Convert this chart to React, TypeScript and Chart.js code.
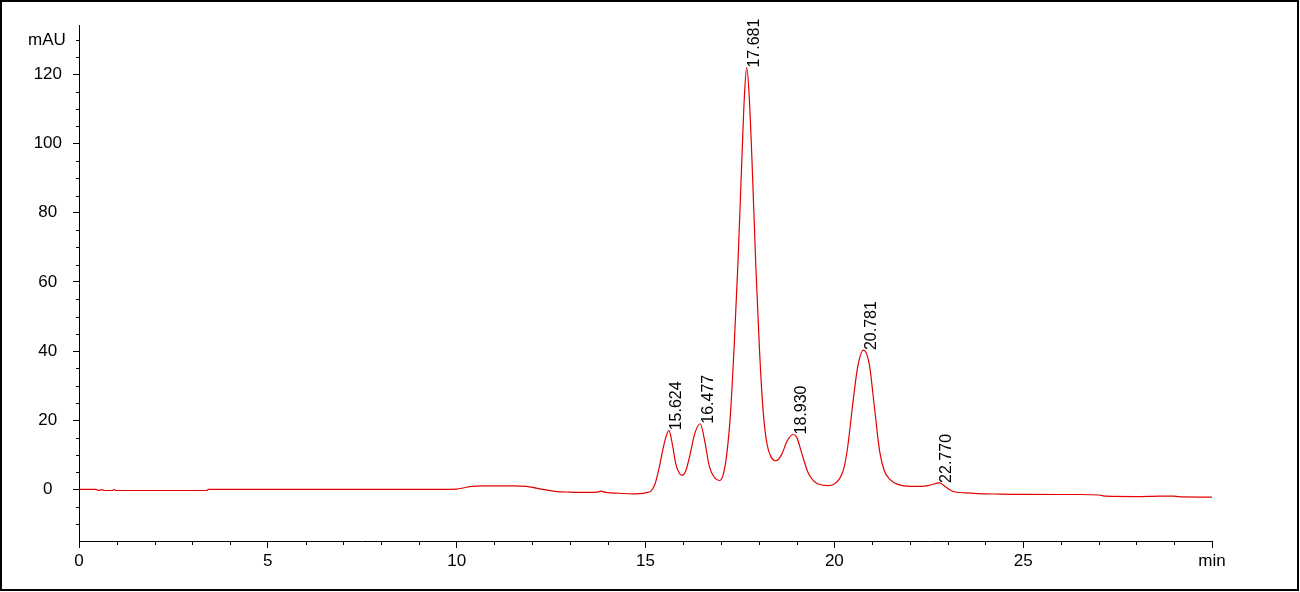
import React, { useEffect, useRef } from 'react';
import { Chart, registerables } from 'chart.js';

Chart.register(...registerables);

// Retention time (min)
const times = [
  0, 0.45, 0.52, 0.6, 0.68, 0.88, 0.93, 0.98, 3.38, 3.43, 6.0, 9.0, 10.0, 10.2, 10.4, 10.7, 11.5, 11.85,
  12.1, 12.4, 12.65, 13.0, 13.5, 13.72, 13.83, 13.95, 14.3, 14.66, 15.0, 15.15, 15.25, 15.37, 15.5, 15.62,
  15.72, 15.8, 15.9, 15.97, 16.07, 16.17, 16.3, 16.45, 16.56, 16.69, 16.83, 16.96, 17.05, 17.15, 17.25,
  17.35, 17.45, 17.55, 17.62, 17.68, 17.74, 17.82, 17.92, 18.02, 18.12, 18.22, 18.32, 18.45, 18.6, 18.75,
  18.9, 19.0, 19.15, 19.3, 19.45, 19.6, 19.82, 20.0, 20.13, 20.25, 20.35, 20.48, 20.62, 20.77, 20.92,
  21.06, 21.2, 21.32, 21.46, 21.7, 22.0, 22.3, 22.55, 22.78, 22.95, 23.13, 23.48, 24.4, 25.0, 26.0, 26.5,
  27.0, 27.2, 28.0, 28.6, 29.0, 29.2, 30.0,
];

// Absorbance (mAU)
const absorbance = [
  0, 0, -0.3, -0.05, -0.3, -0.3, -0.05, -0.3, -0.3, 0, 0, 0, 0.1, 0.5, 0.9, 1.05, 1.05, 0.9,
  0.4, -0.2, -0.6, -0.75, -0.85, -0.75, -0.5, -0.85, -1.1, -1.3, -1.0, -0.4, 1.5, 6.7, 13.5, 17.1,
  12.5, 7.5, 4.6, 4.1, 5.5, 9.6, 16.0, 19.0, 14.5, 6.7, 3.4, 2.6, 4, 10, 22,
  42, 66, 95, 114, 122, 115, 95, 65, 40, 22, 13, 9.5, 8.3, 10, 14,
  15.9, 15.2, 10, 5, 2.5, 1.5, 1.1, 1.6, 3, 6, 12, 24, 35.5, 40.3, 36.5,
  24, 11, 5.5, 3, 1.4, 0.9, 0.9, 1.3, 1.9, 0.7, -0.5, -1.0, -1.35, -1.4, -1.45, -1.45,
  -1.6, -1.95, -2.05, -1.9, -1.95, -2.15, -2.2,
];

const xTickValues = [0, 5, 10, 15, 20, 25, 30];
const xMinorTicks = [1, 2, 3, 4, 6, 7, 8, 9, 11, 12, 13, 14, 16, 17, 18, 19, 21, 22, 23, 24, 26, 27, 28, 29];
const yTickValues = [0, 20, 40, 60, 80, 100, 120];
const yMinorTicks = [-10, -5, 5, 10, 15, 25, 30, 35, 45, 50, 55, 65, 70, 75, 85, 90, 95, 105, 110, 115, 125, 130];

const xUnitLabel = 'min';
const yUnitLabel = 'mAU';
const yUnitAt = 130;

const peakTimes = [15.624, 16.477, 17.681, 18.93, 20.781, 22.77];
const peakHeights = [17.1, 19.0, 122, 15.9, 40.3, 1.9];
const peakLabels = ['15.624', '16.477', '17.681', '18.930', '20.781', '22.770'];

const FONT = '"Liberation Sans", Arial, sans-serif';

const decorPlugin = {
  id: 'decor',
  afterDraw(chart: any) {
    const ctx = chart.ctx;
    const xs = chart.scales.x;
    const ys = chart.scales.y;
    const area = chart.chartArea;
    ctx.save();
    // minor ticks
    ctx.strokeStyle = '#000';
    ctx.lineWidth = 1;
    ctx.beginPath();
    xMinorTicks.forEach((v) => {
      const px = Math.round(xs.getPixelForValue(v)) + 0.5;
      ctx.moveTo(px, area.bottom);
      ctx.lineTo(px, area.bottom + 4);
    });
    yMinorTicks.forEach((v) => {
      const py = Math.round(ys.getPixelForValue(v)) + 0.5;
      ctx.moveTo(area.left - 3, py);
      ctx.lineTo(area.left, py);
    });
    ctx.stroke();
    // unit label on y axis
    ctx.fillStyle = '#000';
    ctx.font = `17px ${FONT}`;
    ctx.textAlign = 'center';
    ctx.textBaseline = 'middle';
    ctx.fillText(yUnitLabel, 47, ys.getPixelForValue(yUnitAt));
    // peak labels
    ctx.font = `16px ${FONT}`;
    ctx.textAlign = 'left';
    ctx.textBaseline = 'alphabetic';
    peakTimes.forEach((t, i) => {
      const px = xs.getPixelForValue(t);
      const py = ys.getPixelForValue(peakHeights[i]);
      ctx.save();
      ctx.translate(px + 12, py);
      ctx.rotate(-Math.PI / 2);
      ctx.fillText(peakLabels[i], 0, 0);
      ctx.restore();
    });
    // outer frame
    ctx.lineWidth = 2;
    ctx.strokeStyle = '#000';
    ctx.strokeRect(1, 1, 1297, 589);
    ctx.restore();
  },
};

export default function App() {
  const canvasRef = useRef<HTMLCanvasElement | null>(null);

  useEffect(() => {
    if (!canvasRef.current) return;
    const data = times.map((t, i) => ({ x: t, y: absorbance[i] }));
    const chart = new Chart(canvasRef.current, {
      type: 'line',
      data: {
        datasets: [
          {
            data,
            borderColor: 'rgb(226, 0, 0)',
            borderWidth: 1.2,
            pointRadius: 0,
            fill: false,
            cubicInterpolationMode: 'monotone',
          },
        ],
      },
      options: {
        responsive: false,
        animation: false,
        events: [],
        layout: { padding: { left: 0, top: 25, right: 88, bottom: 0 } },
        plugins: { legend: { display: false }, tooltip: { enabled: false } },
        scales: {
          x: {
            type: 'linear',
            min: 0,
            max: 30,
            afterBuildTicks: (s: any) => {
              s.ticks = xTickValues.map((v) => ({ value: v }));
            },
            afterFit: (s: any) => {
              s.height = 51;
            },
            ticks: {
              autoSkip: false,
              maxRotation: 0,
              padding: 3,
              color: '#000',
              font: { family: FONT, size: 17 },
              callback: (v: any) => (v === 30 ? xUnitLabel : String(v)),
            },
            grid: { drawOnChartArea: false, drawTicks: true, tickLength: 7, color: '#000', tickWidth: 1 },
            border: { display: true, color: '#000', width: 1 },
          },
          y: {
            type: 'linear',
            min: -14.9,
            max: 134.3,
            afterBuildTicks: (s: any) => {
              s.ticks = yTickValues.map((v) => ({ value: v }));
            },
            afterFit: (s: any) => {
              s.width = 79;
            },
            ticks: {
              autoSkip: false,
              padding: 11,
              crossAlign: 'center',
              color: '#000',
              font: { family: FONT, size: 17 },
            },
            grid: { drawOnChartArea: false, drawTicks: true, tickLength: 6, color: '#000', tickWidth: 1 },
            border: { display: true, color: '#000', width: 1 },
          },
        },
      },
      plugins: [decorPlugin],
    });
    return () => chart.destroy();
  }, []);

  return (
    <div style={{ position: 'absolute', left: 0, top: 0, width: 1300, height: 592, background: '#fff' }}>
      <canvas ref={canvasRef} width={1300} height={592} style={{ display: 'block', width: 1300, height: 592 }} />
    </div>
  );
}
